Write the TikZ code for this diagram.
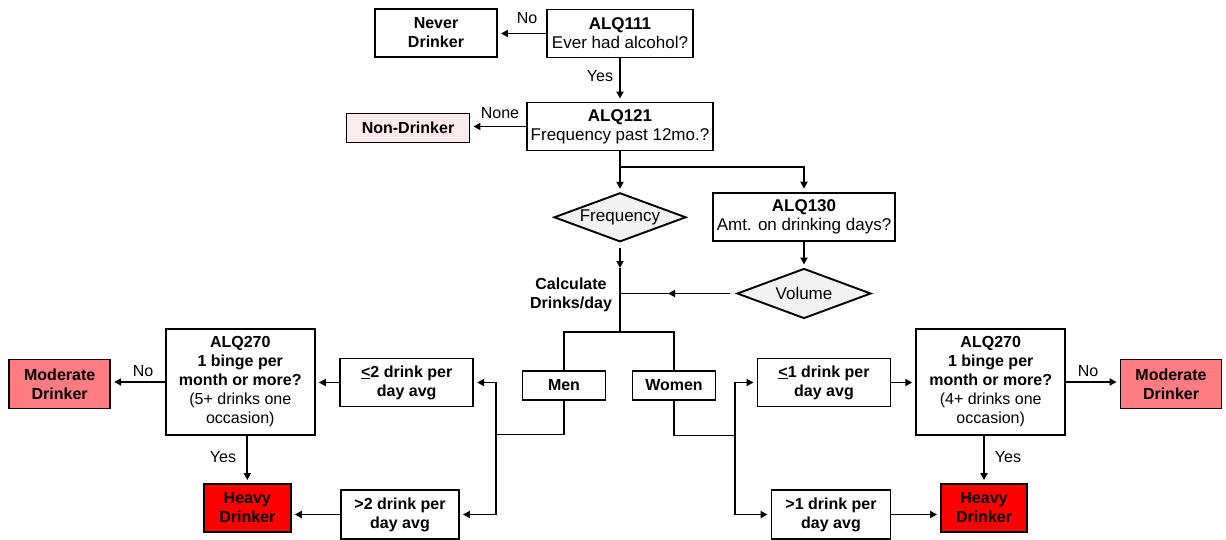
\documentclass[tikz,border=0pt]{standalone}
\usepackage{fontspec}
\setmainfont{Liberation Sans}
\usetikzlibrary{shapes.geometric,arrows.meta}
\definecolor{modc}{RGB}{255,124,128}
\definecolor{heavyc}{RGB}{255,0,0}
\definecolor{nonc}{RGB}{253,234,234}
\definecolor{diac}{RGB}{242,242,242}
\tikzset{
  ln/.style={line width=1.9pt},
  arr/.style={line width=1.9pt,-{Triangle[length=7pt,width=7pt]},shorten >=3pt},
  box/.style={draw,line width=1.9pt,align=center,inner sep=1pt,font=\fontsize{16}{19}\selectfont},
  topbox/.style={box,font=\fontsize{17}{19}\selectfont},
  dia/.style={draw,line width=1.9pt,diamond,aspect=2.7,inner sep=0pt,fill=diac,font=\fontsize{17}{19}\selectfont},
  lbl/.style={font=\fontsize{16}{19}\selectfont,inner sep=0pt},
}
\begin{document}
\begin{tikzpicture}[x=1pt,y=-1pt]
\useasboundingbox (0,0) rectangle (1226,540);
% top
\node[topbox,minimum width=146,minimum height=48] (alq111) at (620,33.5) {\textbf{ALQ111}\\Ever had alcohol?};
\node[box,minimum width=122,minimum height=48] (never) at (436,33) {\textbf{Never}\\\textbf{Drinker}};
\node[topbox,minimum width=186,minimum height=48] (alq121) at (620,126.5) {\textbf{ALQ121}\\Frequency past 12mo.?};
\node[box,minimum width=123,minimum height=29,fill=nonc] (nondr) at (408,128) {\textbf{Non-Drinker}};
\node[dia,minimum width=132,minimum height=49] (freq) at (620,217.3) {\raisebox{-2pt}{Frequency}};
\node[topbox,minimum width=182,minimum height=48] (alq130) at (804,216.7) {\textbf{ALQ130}\\Amt. on drinking days?};
\node[dia,minimum width=134,minimum height=50] (vol) at (804,293.5) {Volume};
\node[box,draw=none,fill=none] (calc) at (571,295) {\textbf{Calculate}\\\textbf{Drinks/day}};
\node[box,minimum width=83,minimum height=29] (men) at (564,385.5) {\textbf{Men}};
\node[box,minimum width=83,minimum height=29] (women) at (674,385.5) {\textbf{Women}};
% left
\node[box,minimum width=133,minimum height=48] (le2) at (406.7,382.5) {\textbf{\underline{<}2 drink per}\\\textbf{day avg}};
\node[box,minimum width=118,minimum height=49] (gt2) at (400,514.5) {\textbf{>2 drink per}\\\textbf{day avg}};
\node[box,minimum width=149,minimum height=106] (alqL) at (240.3,382) {\textbf{ALQ270}\\\textbf{1 binge per}\\\textbf{month or more?}\\(5+ drinks one\\occasion)};
\node[box,minimum width=101,minimum height=49,fill=modc] (modL) at (59.7,384) {\textbf{Moderate}\\\textbf{Drinker}};
\node[box,minimum width=87,minimum height=48,fill=heavyc] (heavyL) at (247.3,508) {\textbf{Heavy}\\\textbf{Drinker}};
% right
\node[box,minimum width=133,minimum height=48] (le1) at (824,382.5) {\textbf{\underline{<}1 drink per}\\\textbf{day avg}};
\node[box,minimum width=119,minimum height=49] (gt1) at (831,514.5) {\textbf{>1 drink per}\\\textbf{day avg}};
\node[box,minimum width=149,minimum height=106] (alqR) at (990.7,382) {\textbf{ALQ270}\\\textbf{1 binge per}\\\textbf{month or more?}\\(4+ drinks one\\occasion)};
\node[box,minimum width=101,minimum height=49,fill=modc] (modR) at (1171,384) {\textbf{Moderate}\\\textbf{Drinker}};
\node[box,minimum width=86,minimum height=48,fill=heavyc] (heavyR) at (984,508) {\textbf{Heavy}\\\textbf{Drinker}};
% coordinates
\coordinate (b1) at (620,167);
\coordinate (fa) at (620,268);
\coordinate (jn) at (620,293.5);
\coordinate (va) at (668,293.5);
\coordinate (sp) at (620,332);
\coordinate (mj) at (496,434.5);
\coordinate (wj) at (735,435.5);
% connectors top
\draw[arr] (alq111.west) -- (alq111.west -| never.east);
\draw[arr] (alq111.south) -- (alq121.north);
\draw[arr] (alq121.west) -- (alq121.west -| nondr.east);
\draw[ln] (alq121.south) -- (b1);
\draw[arr] (b1) -- (freq.north);
\draw[arr] (b1) -| (alq130.north);
\draw[arr] (alq130.south) -- (vol.north);
\draw[arr,shorten <=5pt,shorten >=0pt] (freq.south) -- (fa);
\draw[ln] (fa) -- (sp);
\draw[arr,shorten <=6pt,shorten >=0pt] (vol.west) -- (va);
\draw[ln] (va) -- (jn);
\draw[ln] (sp) -| (men.north);
\draw[ln] (sp) -| (women.north);
% left branch
\draw[ln] (men.south) |- (mj);
\draw[arr] (mj) |- (le2.east);
\draw[arr] (mj) |- (gt2.east);
\draw[arr] (le2.west) -- (le2.west -| alqL.east);
\draw[arr] (alqL.west) -- (alqL.west -| modL.east);
\draw[arr] (alqL.south -| heavyL.north) -- (heavyL.north);
\draw[arr] (gt2.west) -- (gt2.west -| heavyL.east);
% right branch
\draw[ln] (women.south) |- (wj);
\draw[arr] (wj) |- (le1.west);
\draw[arr] (wj) |- (gt1.west);
\draw[arr] (le1.east) -- (le1.east -| alqR.west);
\draw[arr] (alqR.east) -- (alqR.east -| modR.west);
\draw[arr] (alqR.south -| heavyR.north) -- (heavyR.north);
\draw[arr] (gt1.east) -- (gt1.east -| heavyR.west);
% labels
\node[lbl] (lno1) at (527,18) {No};
\node[lbl] (lyes1) at (600,76) {Yes};
\node[lbl] (lnone) at (500,113) {None};
\node[lbl] (lnoL) at (143,371) {No};
\node[lbl] (lyesL) at (223,457) {Yes};
\node[lbl] (lnoR) at (1088,371) {No};
\node[lbl] (lyesR) at (1008,457) {Yes};
\end{tikzpicture}
\end{document}
